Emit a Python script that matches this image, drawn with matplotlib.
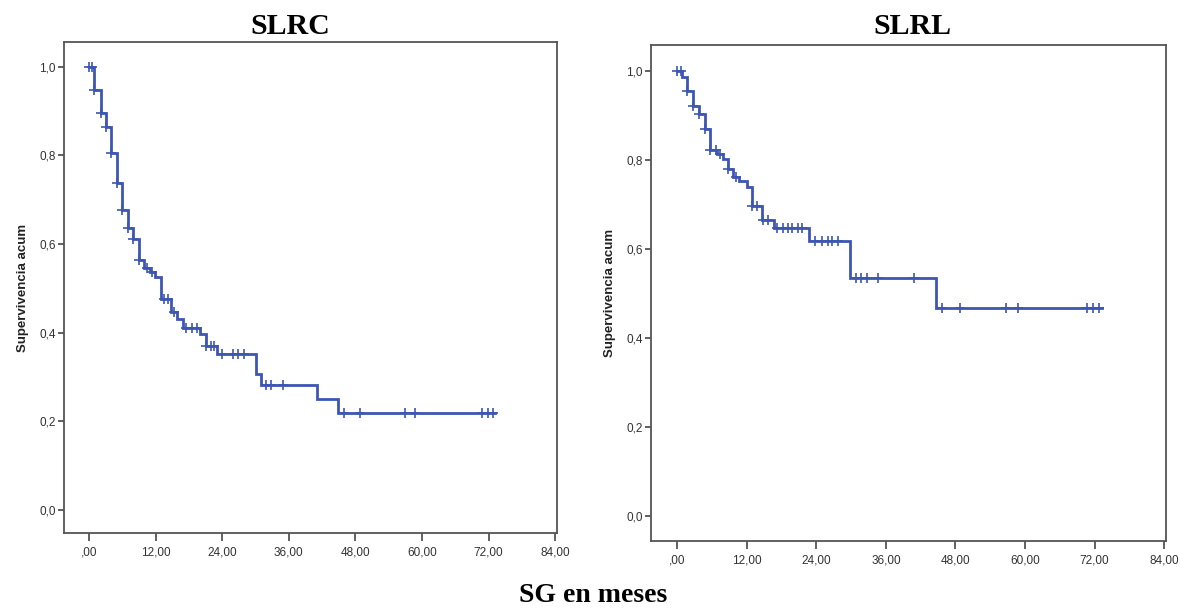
import numpy as np
import matplotlib
matplotlib.use("Agg")
import matplotlib.pyplot as plt
from matplotlib.ticker import FuncFormatter

# Kaplan-Meier estimates: event times (months) and cumulative survival after each step
slrc_times = [0, 0.9, 2.1, 3.1, 4.0, 5.1, 6.0, 7.1, 8.0, 9.1, 9.9, 11.0, 11.9, 12.9,
              14.8, 15.9, 17.0, 20.0, 21.0, 23.0, 30.0, 31.0, 41.0, 44.9]
slrc_surv = [1.0, 0.948, 0.896, 0.865, 0.806, 0.737, 0.676, 0.636, 0.612, 0.565, 0.546,
             0.537, 0.525, 0.476, 0.446, 0.430, 0.411, 0.398, 0.369, 0.353, 0.306, 0.282,
             0.251, 0.219]
slrc_censored = [0, 0.5, 0.9, 2.1, 3.1, 4.0, 5.1, 6.0, 7.1, 8.0, 9.1, 10.4, 11.4, 13.5,
                 14.3, 15.3, 17.5, 18.6, 19.5, 21.0, 22.0, 22.5, 24.0, 26.0, 26.9, 27.9,
                 31.9, 32.8, 34.9, 45.9, 48.9, 56.9, 58.8, 70.8, 71.8, 72.8]
slrc_end = 73.2

slrl_times = [0, 0.8, 1.8, 2.8, 3.8, 4.8, 5.6, 6.9, 8.0, 8.7, 9.6, 10.7, 12.0, 12.9,
              14.7, 16.8, 22.8, 29.8, 44.7]
slrl_surv = [1.0, 0.986, 0.955, 0.920, 0.902, 0.869, 0.823, 0.813, 0.803, 0.780, 0.761,
             0.752, 0.739, 0.696, 0.664, 0.648, 0.617, 0.534, 0.468]
slrl_censored = [0, 0.6, 1.8, 2.8, 3.8, 4.8, 5.6, 6.8, 7.4, 8.7, 10.1, 13.0, 13.7, 14.9,
                 15.6, 17.2, 18.2, 19.1, 19.9, 20.8, 21.6, 23.7, 25.0, 26.0, 26.8, 27.7,
                 30.8, 31.7, 32.7, 34.7, 40.8, 45.7, 48.7, 56.8, 58.7, 70.7, 71.8, 72.8]
slrl_end = 73.2

x_ticks = [0, 12, 24, 36, 48, 60, 72, 84]
y_ticks = [0.0, 0.2, 0.4, 0.6, 0.8, 1.0]

LINE = "#3d56b2"
SPINE = "#555555"
TXT = "#333333"


def x_fmt(v, _):
    s = f"{v:.2f}".replace(".", ",")
    return s[1:] if s.startswith("0,") else s


def y_fmt(v, _):
    return f"{v:.1f}".replace(".", ",")


def km_panel(ax, times, surv, censored, t_end):
    xs = list(times) + [t_end]
    ys = list(surv) + [surv[-1]]
    ax.step(xs, ys, where="post", color=LINE, lw=2.0, solid_joinstyle="miter")
    idx = np.searchsorted(times, censored, side="right") - 1
    cy = np.asarray(surv)[idx]
    ax.plot(censored, cy, ls="none", marker="+", ms=7, mew=1.2, color=LINE)

    ax.set_xlim(-4.5, 84.3)
    ax.set_xticks(x_ticks)
    ax.set_yticks(y_ticks)
    ax.xaxis.set_major_formatter(FuncFormatter(x_fmt))
    ax.yaxis.set_major_formatter(FuncFormatter(y_fmt))
    for sp in ax.spines.values():
        sp.set_color(SPINE)
        sp.set_linewidth(1.3)
    ax.tick_params(axis="x", direction="out", length=6, width=1.3, color=SPINE,
                   labelsize=8.5, labelcolor=TXT, pad=4)
    ax.tick_params(axis="y", direction="out", length=4, width=1.3, color=SPINE,
                   labelsize=8.5, labelcolor=TXT, pad=2)
    for lab in ax.get_xticklabels() + ax.get_yticklabels():
        lab.set_family("Liberation Sans")
    ax.set_ylabel("Supervivencia acum", fontsize=9.5, fontweight="bold",
                  family="Liberation Sans", color="#222222", labelpad=7)


fig = plt.figure(figsize=(11.87, 6.12), dpi=100)
ax1 = fig.add_axes([0.0539, 0.1291, 0.4153, 0.8023])
ax2 = fig.add_axes([0.5484, 0.1160, 0.4339, 0.8105])

km_panel(ax1, slrc_times, slrc_surv, slrc_censored, slrc_end)
ax1.set_ylim(-0.052, 1.056)
km_panel(ax2, slrl_times, slrl_surv, slrl_censored, slrl_end)
ax2.set_ylim(-0.056, 1.058)

title_kw = dict(fontweight="bold", family="Liberation Serif",
                ha="center", va="center", color="black")
fig.text(290 / 1187, 1 - 27 / 612, "SLRC", fontsize=21.5, **title_kw)
fig.text(912 / 1187, 1 - 27 / 612, "SLRL", fontsize=21.5, **title_kw)
fig.text(593 / 1187, 1 - 596 / 612, "SG en meses", fontsize=20, **title_kw)

fig.savefig("out.png", dpi=100)
